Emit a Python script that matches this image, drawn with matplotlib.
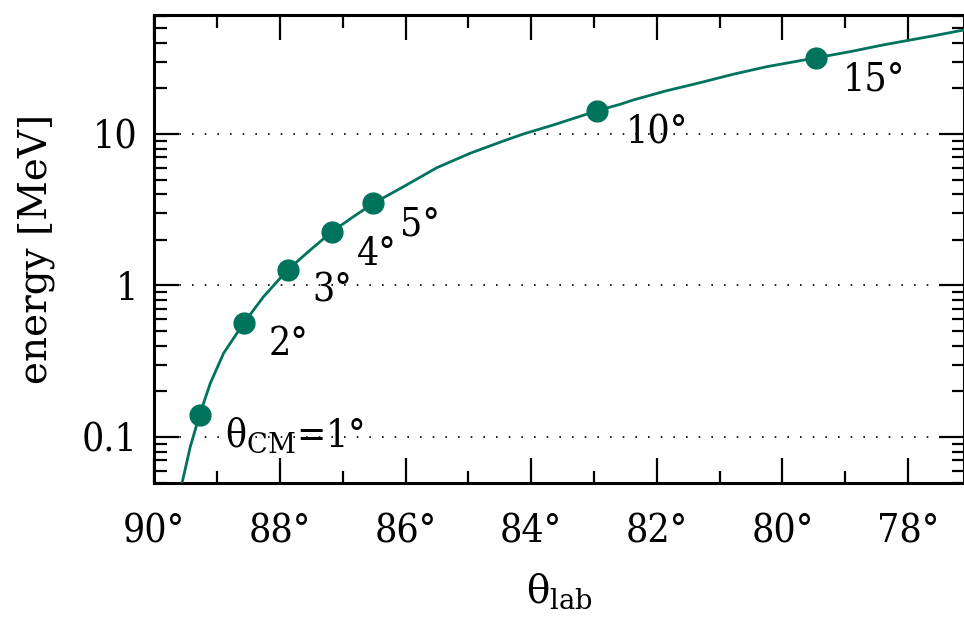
import numpy as np
import matplotlib.pyplot as plt
from matplotlib.ticker import FixedLocator, LogLocator, FuncFormatter, NullFormatter

plt.rcParams['font.family'] = 'DejaVu Serif'
plt.rcParams['mathtext.fontset'] = 'dejavuserif'

# --- data ---
# kinematic curve (theta_lab in deg, energy in MeV)
curve_theta = [89.559, 89.427, 89.279, 89.109, 88.897, 88.579, 88.260, 87.878,
               87.517, 87.172, 86.828, 86.510, 86.032, 85.501, 84.971, 84.441,
               84.122, 83.645, 82.954, 82.583, 82.372, 81.840, 81.310, 80.780,
               80.248, 79.464, 78.927, 78.393, 78.020, 77.597, 77.108]
curve_energy = [0.0495, 0.0863, 0.140, 0.226, 0.357, 0.563, 0.844, 1.266,
                1.715, 2.265, 2.85, 3.49, 4.49, 5.99, 7.46, 8.99,
                10.0, 11.47, 14.2, 15.7, 16.77, 19.31, 21.8, 24.8,
                27.8, 31.8, 34.9, 38.7, 41.3, 44.4, 48.6]

# marked CM angles
pts_theta = [89.279, 88.579, 87.878, 87.172, 86.510, 82.954, 79.464]
pts_energy = [0.140, 0.563, 1.266, 2.265, 3.49, 14.2, 31.8]
pts_labels = ['θ$_{\\rm CM}$=1°', '2°', '3°', '4°', '5°', '10°', '15°']
# label anchor (left edge, baseline) in data coords
lab_theta = [88.87, 88.186, 87.485, 86.769, 86.085, 82.488, 79.034]
lab_energy = [0.0859, 0.348, 0.782, 1.366, 2.154, 8.68, 19.5]

xticks = [90, 88, 86, 84, 82, 80, 78]
yticks = [0.1, 1, 10]
ytick_labels = ['0.1', '1', '10']

col = '#00735c'
fs = 28

fig = plt.figure(figsize=(9.64, 6.21), dpi=100)
ax = fig.add_axes([154.3 / 964, 1 - 483.3 / 621,
                   (964 - 154.3) / 964, (483.3 - 15.3) / 621])

ax.plot(curve_theta, curve_energy, color=col, lw=2.0, zorder=3)
ax.plot(pts_theta, pts_energy, 'o', color=col, ms=15, zorder=4)
for t, e, s in zip(lab_theta, lab_energy, pts_labels):
    ax.text(t, e, s, fontsize=fs, ha='left', va='baseline', zorder=5,
            fontstretch='condensed')

ax.set_yscale('log')
ax.set_xlim(90, 77.108)
ax.set_ylim(0.0495, 60.7)

ax.xaxis.set_major_locator(FixedLocator(xticks))
ax.xaxis.set_minor_locator(FixedLocator(np.arange(89, 76, -2)))
ax.xaxis.set_major_formatter(FuncFormatter(lambda v, p: f'{v:.0f}°'))
ax.yaxis.set_major_locator(FixedLocator(yticks))
ax.yaxis.set_major_formatter(FuncFormatter(
    lambda v, p: ytick_labels[yticks.index(v)] if v in yticks else ''))
ax.yaxis.set_minor_locator(LogLocator(base=10, subs=np.arange(2, 10)))
ax.yaxis.set_minor_formatter(NullFormatter())

ax.tick_params(which='both', direction='in', top=True, right=True,
               width=1.6, labelsize=fs)
ax.tick_params(which='major', length=18)
ax.tick_params(which='minor', length=9)
ax.tick_params(axis='x', which='major', pad=22)
ax.tick_params(axis='y', which='major', pad=12)
for lab in ax.get_xticklabels() + ax.get_yticklabels():
    lab.set_fontstretch('condensed')

for sp in ax.spines.values():
    sp.set_linewidth(2.2)

ax.grid(True, axis='y', which='major', color='black', lw=1.2,
        linestyle=(0, (1, 6.6)))

ax.set_xlabel('θ$_{\\rm lab}$', fontsize=fs, labelpad=15)
ax.set_ylabel('energy [MeV]', fontsize=fs, labelpad=19)

fig.savefig('out.png', dpi=100)
